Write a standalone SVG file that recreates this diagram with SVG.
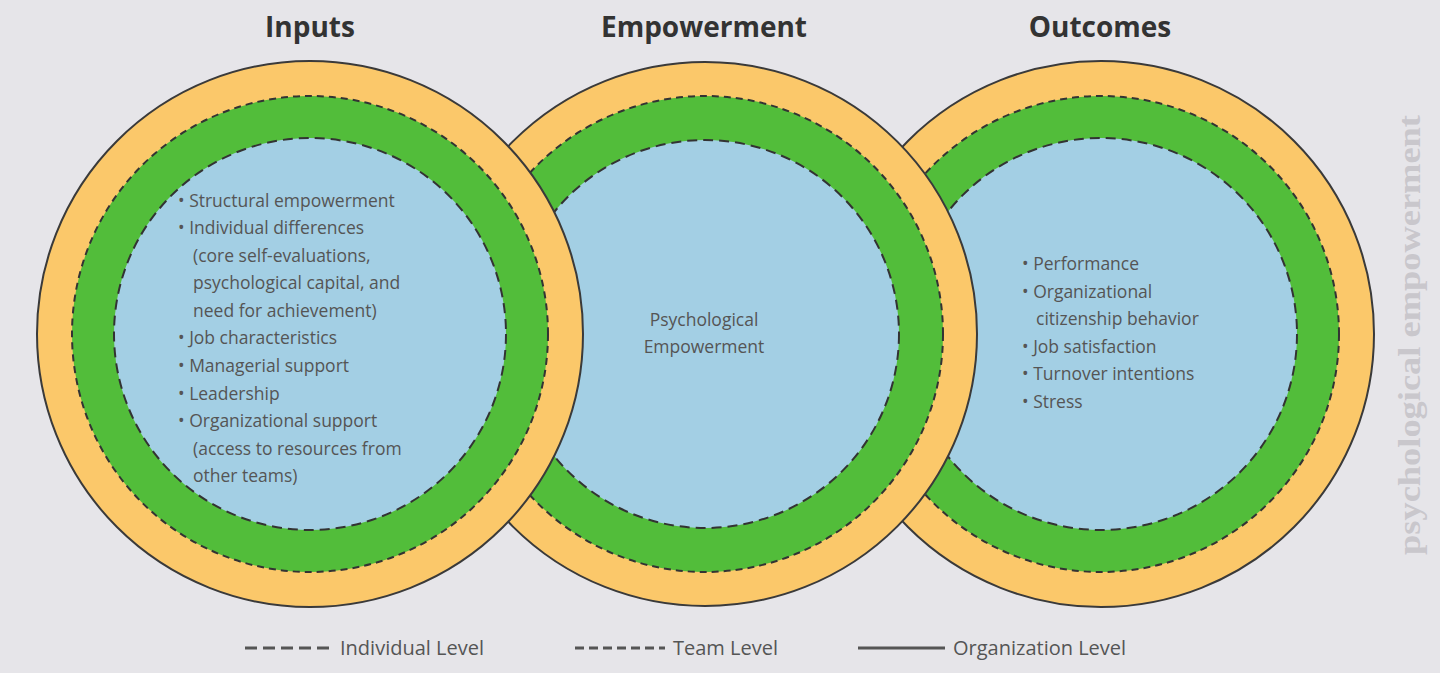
<svg xmlns="http://www.w3.org/2000/svg" width="1440" height="673" viewBox="0 0 1440 673">
<style>
.org{fill:#fbc86a;stroke:#3a3a3a;stroke-width:2}
.team{fill:#52bd3a;stroke:#333;stroke-width:2;stroke-dasharray:7 5}
.ind{fill:#a3cfe4;stroke:#333;stroke-width:2;stroke-dasharray:10 6}
.h{font-family:"Open Sans","Liberation Sans",sans-serif;font-weight:bold;font-size:28px;fill:#333;text-anchor:middle}
.t{font-family:"Open Sans","Liberation Sans",sans-serif;font-size:17.5px;fill:#555}
.l{font-family:"Open Sans","Liberation Sans",sans-serif;font-size:20px;fill:#555}
</style>
<rect width="1440" height="673" fill="#e6e5e9"/>
<text class="h" x="310" y="37">Inputs</text>
<text class="h" x="704" y="37">Empowerment</text>
<text class="h" x="1100" y="37">Outcomes</text>
<g id="outcomes">
<circle class="org" cx="1101" cy="334" r="273"/>
<circle class="team" cx="1101" cy="334" r="238"/>
<circle class="ind" cx="1101" cy="334" r="196"/>
<text class="t" x="1022" y="270">• Performance</text>
<text class="t" x="1022" y="298">• Organizational</text>
<text class="t" x="1036" y="325">citizenship behavior</text>
<text class="t" x="1022" y="353">• Job satisfaction</text>
<text class="t" x="1022" y="380">• Turnover intentions</text>
<text class="t" x="1022" y="408">• Stress</text>
</g>
<g id="empowerment">
<circle class="org" cx="705" cy="334" r="272"/>
<circle class="team" cx="705" cy="334" r="238"/>
<circle class="ind" cx="705" cy="334" r="194"/>
<text class="t" x="704" y="326" text-anchor="middle">Psychological</text>
<text class="t" x="704" y="353" text-anchor="middle">Empowerment</text>
</g>
<g id="inputs">
<circle class="org" cx="310" cy="334" r="273"/>
<circle class="team" cx="310" cy="334" r="238"/>
<circle class="ind" cx="310" cy="334" r="196"/>
<text class="t" x="178" y="207">• Structural empowerment</text>
<text class="t" x="178" y="234">• Individual differences</text>
<text class="t" x="193" y="262">(core self-evaluations,</text>
<text class="t" x="193" y="289">psychological capital, and</text>
<text class="t" x="193" y="317">need for achievement)</text>
<text class="t" x="178" y="344">• Job characteristics</text>
<text class="t" x="178" y="372">• Managerial support</text>
<text class="t" x="178" y="400">• Leadership</text>
<text class="t" x="178" y="427">• Organizational support</text>
<text class="t" x="193" y="455">(access to resources from</text>
<text class="t" x="193" y="482">other teams)</text>
</g>
<text x="1420" y="335" transform="rotate(-90 1420 335)" text-anchor="middle" font-family="Liberation Serif,serif" font-weight="bold" font-size="32" fill="#c9c7cc" textLength="440" lengthAdjust="spacingAndGlyphs">psychological empowerment</text>
<g id="legend">
<line x1="245" y1="648" x2="335" y2="648" stroke="#555" stroke-width="3" stroke-dasharray="12 6"/>
<text class="l" x="340" y="655">Individual Level</text>
<line x1="575" y1="648" x2="665" y2="648" stroke="#555" stroke-width="3" stroke-dasharray="9 5"/>
<text class="l" x="673" y="655">Team Level</text>
<line x1="858" y1="648" x2="945" y2="648" stroke="#555" stroke-width="3"/>
<text class="l" x="953" y="655">Organization Level</text>
</g>
</svg>
